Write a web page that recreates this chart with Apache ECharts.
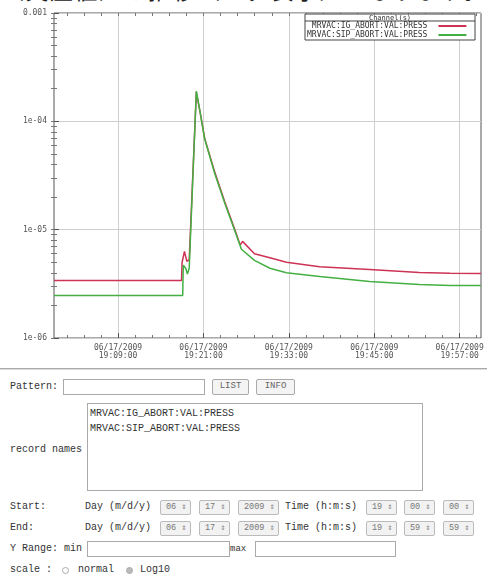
<!DOCTYPE html>
<html><head><meta charset="utf-8">
<script src="https://cdn.jsdelivr.net/npm/echarts@6/dist/echarts.min.js"></script>
<style>
body{margin:0;background:#fff;width:487px;height:576px;overflow:hidden;position:relative;font-family:"Noto Sans CJK JP","DejaVu Sans",sans-serif;color:#444;}
#title{position:absolute;left:1px;top:-23px;font-size:23px;line-height:24px;color:#222;white-space:nowrap;letter-spacing:1.5px;}
#chart{position:absolute;left:0;top:0;width:487px;height:362px;}
#hr{position:absolute;left:0;top:368px;width:487px;height:0;border-top:1px solid #aaa;border-bottom:1px solid #ddd;}
.t{position:absolute;font-family:"Liberation Mono","DejaVu Sans Mono",monospace;font-size:10px;line-height:14px;white-space:nowrap;color:#333;}
.box{position:absolute;border:1px solid #aaa;background:#fff;box-sizing:border-box;}
.btn{position:absolute;border:1px solid #aaa;border-radius:2px;background:#f4f4f4;box-sizing:border-box;font-family:"Liberation Mono",monospace;font-size:9px;line-height:13px;text-align:center;color:#666;}
.sel{position:absolute;border:1px solid #bbb;border-radius:2px;background:#f2f2f2;box-sizing:border-box;font-family:"Liberation Mono",monospace;font-size:8.5px;line-height:12px;height:15px;padding-left:5px;color:#777;white-space:nowrap;}
.ta{position:absolute;font-family:"Liberation Mono","DejaVu Sans Mono",monospace;font-size:10px;line-height:15px;color:#333;padding:2px 0 0 2px;}
.radio{position:absolute;width:7px;height:7px;border:1px solid #aaa;border-radius:50%;box-sizing:border-box;background:#fff;}
</style></head>
<body>
<div id="title">（実圧値）の推移（ログ表示）となります。</div>
<div id="chart"></div>
<div id="hr"></div>

<div class="t" style="left:10px;top:380px;">Pattern:</div>
<div class="box" style="left:63px;top:379px;width:142px;height:16px;"></div>
<div class="btn" style="left:212px;top:379px;width:37px;height:16px;">LIST</div>
<div class="btn" style="left:256px;top:379px;width:39px;height:16px;">INFO</div>

<div class="box ta" style="left:87px;top:403px;width:336px;height:88px;">MRVAC:IG_ABORT:VAL:PRESS<br>MRVAC:SIP_ABORT:VAL:PRESS</div>
<div class="t" style="left:10px;top:443px;">record names</div>

<div class="t" style="left:10px;top:500px;">Start:</div>
<div class="t" style="left:85px;top:500px;">Day (m/d/y)</div>
<div class="sel" style="left:160px;top:500px;width:31px;">06 ⇕</div>
<div class="sel" style="left:199px;top:500px;width:31px;">17 ⇕</div>
<div class="sel" style="left:238px;top:500px;width:41px;">2009 ⇕</div>
<div class="t" style="left:285px;top:500px;">Time (h:m:s)</div>
<div class="sel" style="left:366px;top:500px;width:31px;">19 ⇕</div>
<div class="sel" style="left:404px;top:500px;width:31px;">00 ⇕</div>
<div class="sel" style="left:443px;top:500px;width:31px;">00 ⇕</div>

<div class="t" style="left:10px;top:521px;">End:</div>
<div class="t" style="left:85px;top:521px;">Day (m/d/y)</div>
<div class="sel" style="left:160px;top:521px;width:31px;">06 ⇕</div>
<div class="sel" style="left:199px;top:521px;width:31px;">17 ⇕</div>
<div class="sel" style="left:238px;top:521px;width:41px;">2009 ⇕</div>
<div class="t" style="left:285px;top:521px;">Time (h:m:s)</div>
<div class="sel" style="left:366px;top:521px;width:31px;">19 ⇕</div>
<div class="sel" style="left:404px;top:521px;width:31px;">59 ⇕</div>
<div class="sel" style="left:443px;top:521px;width:31px;">59 ⇕</div>

<div class="t" style="left:10px;top:542px;">Y Range: min</div>
<div class="box" style="left:87px;top:541px;width:143px;height:16px;"></div>
<div class="t" style="left:230px;top:542px;font-size:9px;">max</div>
<div class="box" style="left:255px;top:541px;width:141px;height:16px;"></div>

<div class="t" style="left:10px;top:563px;">scale :</div>
<div class="radio" style="left:62px;top:567px;"></div>
<div class="t" style="left:78px;top:563px;">normal</div>
<div class="radio" style="left:126px;top:567px;background:#bbb;"></div>
<div class="t" style="left:140px;top:563px;">Log10</div>

<script>
// ---- data ----
const seriesNames = ['MRVAC:IG_ABORT:VAL:PRESS', 'MRVAC:SIP_ABORT:VAL:PRESS'];
const igTimes = ['19:00:00','19:17:55','19:18:00','19:18:20','19:18:40','19:19:00','19:20:00','19:20:30','19:21:10','19:22:35','19:24:00','19:25:25','19:26:10','19:26:30','19:28:10','19:30:20','19:32:40','19:37:20','19:44:20','19:51:20','19:55:40','19:59:59'];
const igValues = [3.39e-6,3.39e-6,5.0e-6,6.3e-6,5.1e-6,5.3e-6,1.85e-4,1.25e-4,7.0e-5,3.4e-5,1.8e-5,1.0e-5,7.2e-6,7.8e-6,6.0e-6,5.5e-6,5.0e-6,4.55e-6,4.28e-6,4.02e-6,3.95e-6,3.93e-6];
const sipTimes = ['19:00:00','19:18:05','19:18:10','19:18:30','19:18:45','19:19:00','19:20:00','19:20:30','19:21:10','19:22:35','19:24:00','19:25:25','19:26:20','19:28:10','19:30:20','19:32:40','19:37:20','19:44:20','19:51:20','19:55:40','19:59:59'];
const sipValues = [2.47e-6,2.47e-6,4.7e-6,4.4e-6,3.9e-6,4.4e-6,1.9e-4,1.25e-4,6.9e-5,3.3e-5,1.75e-5,9.7e-6,6.6e-6,5.2e-6,4.4e-6,4.0e-6,3.7e-6,3.32e-6,3.11e-6,3.05e-6,3.05e-6];
const xTickTimes = ['19:09:00','19:21:00','19:33:00','19:45:00','19:57:00'];
const xTickDate = '06/17/2009';
const yTickValues = [1e-6, 1e-5, 1e-4, 1e-3];
const yTickLabels = ['1e-06', '1e-05', '1e-04', '0.001'];
const xStart = '19:00:00', xEnd = '20:00:00';

// ---- helpers ----
function toMin(s){const p=s.split(':').map(Number);return (p[0]-19)*60+p[1]+p[2]/60;}
const xTicks = xTickTimes.map(toMin);
const xMinor = [];
for (let k=-5;k<=30;k++){const v=xTicks[0]+k*2.4; if(v>0.01&&v<59.99&&k%5!==0) xMinor.push(v);}
const yMinor = [];
for (let e=-6;e<-3;e++) for (let k=2;k<=9;k++) yMinor.push(k*Math.pow(10,e));
const labelOf = {}; xTicks.forEach((v,i)=>labelOf[v.toFixed(3)] = xTickDate+'\n'+xTickTimes[i]);
const yLab = {}; yTickValues.forEach((v,i)=>yLab[v.toExponential(0)] = yTickLabels[i]);

const mono = 'DejaVu Sans Mono';
const chart = echarts.init(document.getElementById('chart'), null, {renderer:'canvas'});
const commonX = {type:'value', min:toMin(xStart), max:toMin(xEnd)};
chart.setOption({
  animation:false,
  grid:{left:54, right:6, top:13, bottom:24, show:true, borderColor:'#555', borderWidth:1, backgroundColor:'#fff'},
  xAxis:[
    Object.assign({}, commonX, {
      position:'bottom',
      axisLine:{show:false},
      axisTick:{show:true, inside:true, length:5, lineStyle:{color:'#555'}, customValues:xTicks},
      axisLabel:{customValues:xTicks, fontFamily:mono, fontSize:8, color:'#555', lineHeight:8, margin:6,
        formatter:v=>labelOf[v.toFixed(3)]||''},
      splitLine:{show:true, lineStyle:{color:'#cfcfcf', width:1}}
    }),
    Object.assign({}, commonX, {
      position:'bottom', axisLine:{show:false}, axisLabel:{show:false}, splitLine:{show:false},
      axisTick:{show:true, inside:true, length:3, lineStyle:{color:'#777'}, customValues:xMinor}
    }),
    Object.assign({}, commonX, {
      position:'top', axisLine:{show:false}, axisLabel:{show:false}, splitLine:{show:false},
      axisTick:{show:true, inside:true, length:3, lineStyle:{color:'#777'}, customValues:xMinor.concat(xTicks)}
    })
  ],
  yAxis:[
    {type:'log', logBase:10, min:yTickValues[0], max:yTickValues[yTickValues.length-1], position:'left',
      axisLine:{show:false},
      axisTick:{show:true, inside:true, length:5, lineStyle:{color:'#555'}},
      axisLabel:{fontFamily:mono, fontSize:8, color:'#555', margin:7,
        formatter:v=>yLab[Number(v).toExponential(0)]||''},
      splitLine:{show:true, lineStyle:{color:'#cfcfcf', width:1}}},
    {type:'log', logBase:10, min:yTickValues[0], max:yTickValues[yTickValues.length-1], position:'left',
      axisLine:{show:false}, axisLabel:{show:false}, splitLine:{show:false},
      axisTick:{show:true, inside:true, length:3, lineStyle:{color:'#777'}, customValues:yMinor}},
    {type:'log', logBase:10, min:yTickValues[0], max:yTickValues[yTickValues.length-1], position:'right',
      axisLine:{show:false}, axisLabel:{show:false}, splitLine:{show:false},
      axisTick:{show:true, inside:true, length:3, lineStyle:{color:'#777'}, customValues:yMinor.concat(yTickValues)}}
  ],
  graphic:[
    {type:'rect', shape:{x:305, y:14, width:170, height:26}, style:{fill:'#fff', stroke:'#444', lineWidth:1}, z:50},
    {type:'line', shape:{x1:305, y1:21, x2:475, y2:21}, style:{stroke:'#444', lineWidth:1}, z:51},
    {type:'text', x:390, y:14.5, style:{text:'Channel(s)', fontFamily:mono, fontSize:7, fill:'#333', textAlign:'center'}, z:51}
  ],
  legend:{
    left:307, top:22, orient:'vertical', align:'right', itemGap:1, itemWidth:28, itemHeight:2, icon:'rect',
    padding:0, z:60,
    textStyle:{fontFamily:mono, fontSize:8, color:'#333', lineHeight:8, padding:[0,6,0,0]},
    data:seriesNames
  },
  series:[
    {name:seriesNames[0], type:'line', showSymbol:false, xAxisIndex:0, yAxisIndex:0,
      data:igTimes.map((t,i)=>[toMin(t), igValues[i]]), color:'#cc3355', lineStyle:{width:1.5, color:'#cc3355'}, z:3},
    {name:seriesNames[1], type:'line', showSymbol:false, xAxisIndex:0, yAxisIndex:0,
      data:sipTimes.map((t,i)=>[toMin(t), sipValues[i]]), color:'#44b044', lineStyle:{width:1.5, color:'#44b044'}, z:4}
  ]
});
</script>
</body></html>
